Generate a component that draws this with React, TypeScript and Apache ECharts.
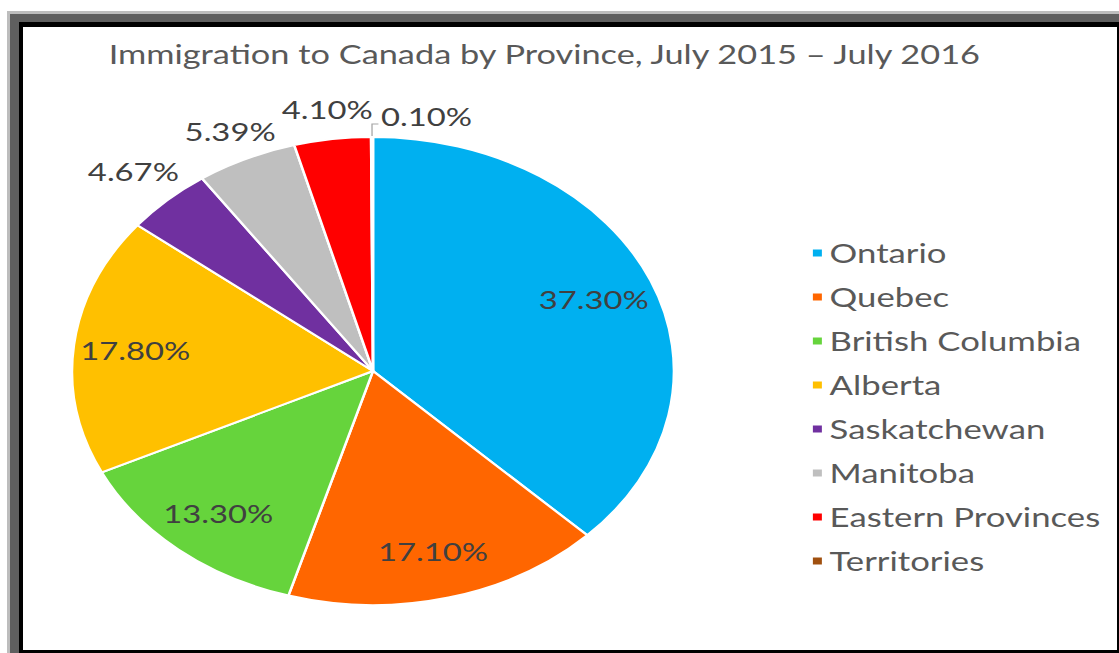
import React, { useEffect, useRef } from "react";
import * as echarts from "echarts";

const title = "Immigration to Canada by Province, July 2015 – July 2016";
const categories = [
  "Ontario",
  "Quebec",
  "British Columbia",
  "Alberta",
  "Saskatchewan",
  "Manitoba",
  "Eastern Provinces",
  "Territories",
];
const values = [37.3, 17.1, 13.3, 17.8, 4.67, 5.39, 4.1, 0.1];
const colors = ["#00B0F0", "#FF6600", "#66D43C", "#FFC000", "#7030A0", "#BFBFBF", "#FF0000", "#A0500F"];
const insideLabelled = ["Ontario", "Quebec", "British Columbia", "Alberta"];
const outsideFarLabelled = ["Saskatchewan"];
const outsideNearLabelled = ["Manitoba", "Eastern Provinces"];
const leaderLabelled = ["Territories"];

const W = 1119;
const H = 653;
const SX = 1.2862; // the reference is stretched horizontally
const CW = W / SX;

const FONT = "Lato, 'Open Sans', sans-serif";
const R = 234;
const CENTER = [290, 371];

const fmt = (p: any) => Number(p.value).toFixed(2) + "%";

function labelRing(radius: number[], labelled: string[], labelBase: any) {
  return {
    type: "pie",
    center: CENTER,
    radius,
    startAngle: 90,
    clockwise: true,
    silent: true,
    avoidLabelOverlap: false,
    emphasis: { disabled: true },
    itemStyle: { color: "rgba(0,0,0,0)", borderWidth: 0 },
    label: { ...labelBase, position: "inside" },
    labelLine: { show: false },
    data: categories.map((name, i) => ({
      name,
      value: values[i],
      label: { show: labelled.includes(name) },
    })),
  };
}

function buildOption() {
  const labelBase = { formatter: fmt, color: "#404040", fontFamily: FONT, fontSize: 25.5 };
  return {
    animation: false,
    title: {
      text: title,
      left: 79.5,
      top: 36,
      textStyle: { fontFamily: FONT, fontSize: 26.7, fontWeight: "normal", color: "#595959" },
    },
    legend: {
      orient: "vertical",
      left: 625,
      top: 234.5,
      itemWidth: 9,
      itemHeight: 9,
      itemGap: 17,
      icon: "rect",
      selectedMode: false,
      data: categories,
      textStyle: { fontFamily: FONT, fontSize: 27, color: "#595959" },
    },
    series: [
      {
        type: "pie",
        center: CENTER,
        radius: [0, R],
        startAngle: 90,
        clockwise: true,
        avoidLabelOverlap: false,
        emphasis: { disabled: true },
        itemStyle: { borderColor: "#ffffff", borderWidth: 2 },
        label: { ...labelBase, show: false, position: "outside", distanceToLabelLine: 2 },
        labelLine: { show: false, length: 13, length2: 4, lineStyle: { color: "#a6a6a6", width: 1 } },
        data: categories.map((name, i) => ({
          name,
          value: values[i],
          itemStyle: { color: colors[i] },
          label: { show: leaderLabelled.includes(name) },
          labelLine: { show: leaderLabelled.includes(name) },
        })),
        labelLayout: (p: any) => {
          if (!leaderLabelled.includes(categories[p.dataIndex]) || !p.labelLinePoints) return {};
          const pts = p.labelLinePoints;
          const a = pts[0];
          const b = pts[1];
          const end = [b[0] + 5, b[1]];
          return {
            x: end[0] + 2,
            y: end[1] + 5,
            align: "left",
            verticalAlign: "bottom",
            labelLinePoints: [a, b, end],
          };
        },
      },
      labelRing([132, R], insideLabelled, labelBase),
      labelRing([R, 306], outsideFarLabelled, labelBase),
      labelRing([R, 288], outsideNearLabelled, labelBase),
    ],
  };
}

function Chart() {
  const ref = useRef<HTMLDivElement>(null);
  useEffect(() => {
    if (!ref.current) return;
    const chart = echarts.init(ref.current, undefined, { renderer: "svg" });
    chart.setOption(buildOption() as any);
    return () => chart.dispose();
  }, []);
  return (
    <div
      ref={ref}
      style={{
        position: "absolute",
        left: 0,
        top: 0,
        width: CW,
        height: H,
        transform: `scaleX(${SX})`,
        transformOrigin: "0 0",
      }}
    />
  );
}

export default function App() {
  const box = (style: React.CSSProperties) => <div style={{ position: "absolute", ...style }} />;
  return (
    <div
      style={{
        position: "fixed",
        left: 0,
        top: 0,
        width: W,
        height: H,
        background: "#ffffff",
        overflow: "hidden",
      }}
    >
      {box({ left: 7, top: 11, right: 0, bottom: 0, background: "#bdbdbd" })}
      {box({ left: 10, top: 14, right: 0, bottom: 0, background: "#5f5f5f" })}
      {box({ left: 19, top: 22, right: 0, bottom: 0, background: "#000000" })}
      {box({ left: 23, top: 27, right: 2, bottom: 3, background: "#ffffff" })}
      <Chart />
    </div>
  );
}
